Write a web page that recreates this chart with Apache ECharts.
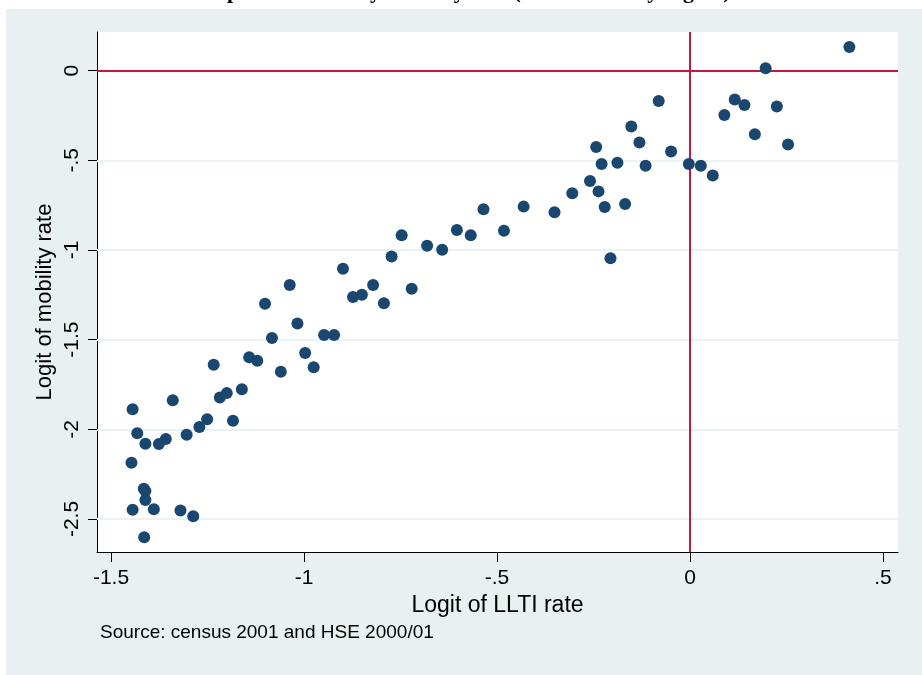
<!DOCTYPE html>
<html>
<head>
<meta charset="utf-8">
<script src="https://cdn.jsdelivr.net/npm/echarts@6/dist/echarts.min.js"></script>
<style>
  html, body { margin: 0; padding: 0; background: #ffffff; }
  #chart { width: 922px; height: 675px; }
</style>
</head>
<body>
<div id="chart"></div>
<script>
// Logit of LLTI rate (x) against logit of mobility rate (y), one point per area
const llti = [
  -1.037, -1.101, -1.017, -1.083, -0.997, -0.948, -0.922, -0.975, -0.873, -0.850,
  -0.821, -0.793, -1.234, -1.142, -1.121, -1.060, -1.161, -1.218, -1.200, -1.184,
  -1.251, -1.271, -1.304, -1.340, -1.444, -1.432, -1.411, -1.376, -1.358, -1.447,
  -1.415, -1.411, -1.411, -1.444, -1.389, -1.320, -1.287, -1.414, -0.899, -0.721,
  -0.773, -0.747, -0.681, -0.642, -0.604, -0.568, -0.535, -0.482, -0.431, -0.351,
  -0.305, -0.259, -0.237, -0.221, -0.206, -0.168, -0.243, -0.229, -0.188, -0.152,
  -0.131, -0.115, -0.081, -0.049, 0.413, 0.196, 0.116, 0.141, 0.225, 0.089,
  0.168, 0.254, -0.003, 0.028, 0.059
];
const mobility = [
  -1.195, -1.300, -1.410, -1.490, -1.574, -1.474, -1.474, -1.654, -1.262, -1.250,
  -1.195, -1.297, -1.640, -1.598, -1.617, -1.679, -1.777, -1.822, -1.798, -1.952,
  -1.944, -1.987, -2.030, -1.838, -1.888, -2.022, -2.080, -2.082, -2.054, -2.186,
  -2.331, -2.344, -2.394, -2.448, -2.446, -2.452, -2.485, -2.602, -1.105, -1.216,
  -1.036, -0.918, -0.976, -0.998, -0.888, -0.918, -0.773, -0.892, -0.758, -0.790,
  -0.684, -0.615, -0.673, -0.760, -1.046, -0.743, -0.426, -0.520, -0.513, -0.311,
  -0.400, -0.530, -0.169, -0.450, 0.132, 0.013, -0.160, -0.191, -0.199, -0.247,
  -0.355, -0.412, -0.520, -0.530, -0.585
];

const xTicks = [-1.5, -1, -0.5, 0, 0.5];
const xTickLabels = ['-1.5', '-1', '-.5', '0', '.5'];
const yTicks = [-2.5, -2, -1.5, -1, -0.5, 0];
const yTickLabels = ['-2.5', '-2', '-1.5', '-1', '-.5', '0'];

const titleText = 'Self-reported illness by mobility rate (local authority region)';
const xTitle = 'Logit of LLTI rate';
const yTitle = 'Logit of mobility rate';
const sourceNote = 'Source: census 2001 and HSE 2000/01';

const FONT = '"Liberation Sans", Arial, sans-serif';
const INK = '#000000';
const MARKER = '#1a476f';
const REF = '#c8173f';
const GRID = '#eaf2f3';

const chart = echarts.init(document.getElementById('chart'), null, { renderer: 'canvas' });

const points = llti.map((x, i) => [x, mobility[i]]);
const fmt = (ticks, labels) => v => {
  const i = ticks.findIndex(t => Math.abs(t - v) < 1e-9);
  return i >= 0 ? labels[i] : '';
};

chart.setOption({
  animation: false,
  backgroundColor: '#ffffff',
  graphic: [
    { type: 'rect', z: -10, shape: { x: 6, y: 9, width: 916, height: 666 }, style: { fill: '#e8f0f2' } },
    { type: 'rect', z: -9, shape: { x: 97, y: 32, width: 801, height: 520 }, style: { fill: '#ffffff' } },
    { type: 'text', left: 165, top: -19, z: -11,
      style: { text: titleText, font: 'bold 22px "Liberation Serif", "Times New Roman", serif', fill: INK } },
    // vertical axis title, set a little below the plot's centre
    { type: 'text', x: 45, y: 302, rotation: Math.PI / 2,
      style: { text: yTitle, font: '22px ' + FONT, fill: INK, align: 'center', verticalAlign: 'middle' } },
    { type: 'text', left: 100, top: 623,
      style: { text: sourceNote, font: '19px ' + FONT, fill: INK } }
  ],
  grid: { left: 97, top: 32, width: 801, height: 520, containLabel: false },
  xAxis: {
    type: 'value',
    min: -1.5363, max: 0.5389,
    name: xTitle, nameLocation: 'middle', nameGap: 37,
    nameTextStyle: { fontFamily: FONT, fontSize: 23, color: INK },
    axisLine: { show: true, onZero: false, lineStyle: { color: INK, width: 1 } },
    axisTick: { show: true, length: 10, lineStyle: { color: INK }, customValues: xTicks },
    axisLabel: { show: true, customValues: xTicks, formatter: fmt(xTicks, xTickLabels),
      fontFamily: FONT, fontSize: 21, color: INK, margin: 16 },
    splitLine: { show: false }
  },
  yAxis: {
    type: 'value',
    min: -2.684, max: 0.2158,
    axisLine: { show: true, onZero: false, lineStyle: { color: INK, width: 1 } },
    axisTick: { show: true, length: 9, lineStyle: { color: INK }, customValues: yTicks },
    axisLabel: { show: true, customValues: yTicks, formatter: fmt(yTicks, yTickLabels),
      rotate: 90, fontFamily: FONT, fontSize: 21, color: INK, margin: 14 },
    splitLine: { show: false }
  },
  series: [
    {
      type: 'scatter',
      data: points,
      symbol: 'circle',
      symbolSize: 12,
      itemStyle: { color: MARKER, opacity: 1 },
      z: 5,
      markLine: {
        silent: true, symbol: 'none', animation: false, z: 1,
        label: { show: false },
        data: yTicks.filter(v => v !== 0).map(v => ({ yAxis: v, lineStyle: { color: GRID, width: 2, type: 'solid' } }))
          .concat([
            { yAxis: 0, lineStyle: { color: REF, width: 2, type: 'solid' } },
            { xAxis: 0, lineStyle: { color: REF, width: 2, type: 'solid' } }
          ])
      }
    }
  ]
});
</script>
</body>
</html>
